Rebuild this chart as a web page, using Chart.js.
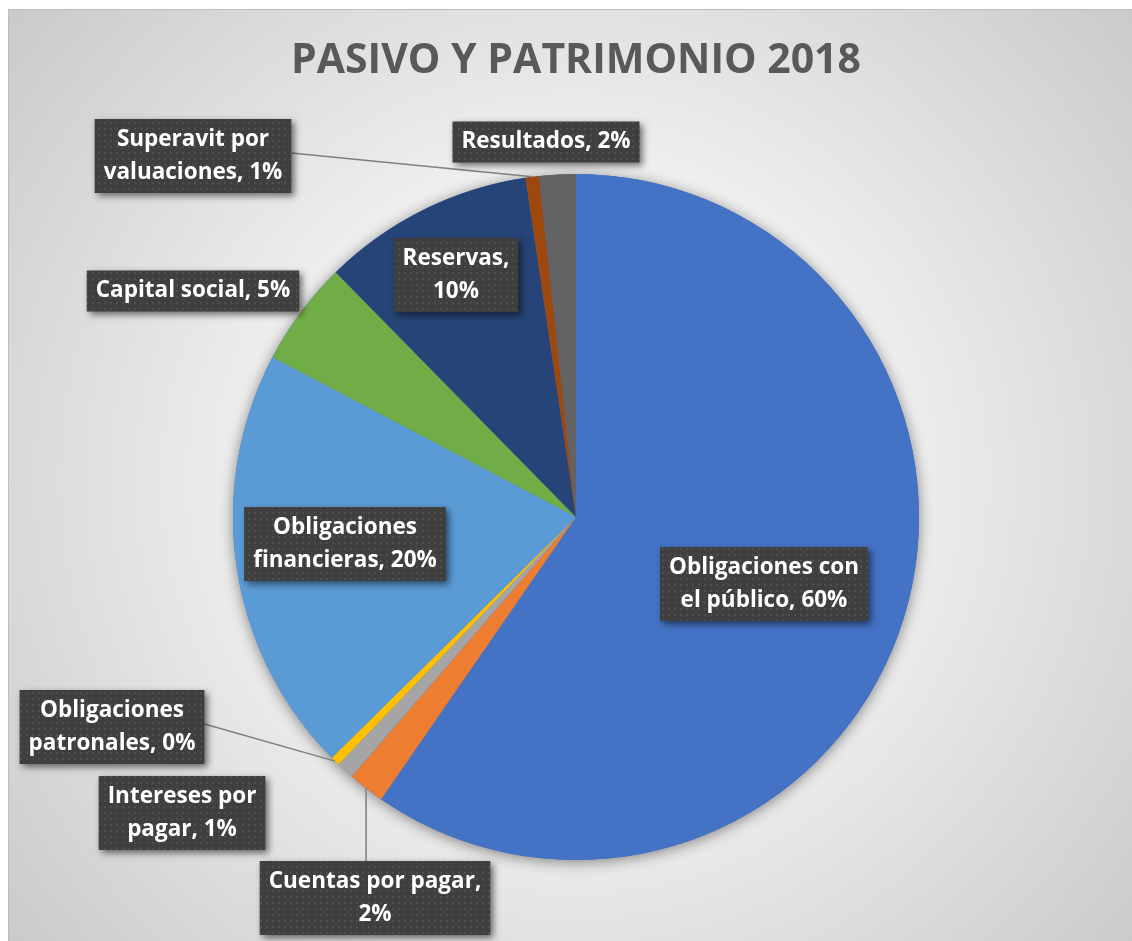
<!DOCTYPE html>
<html>
<head>
<meta charset="utf-8">
<script src="https://cdn.jsdelivr.net/npm/chart.js@4"></script>
<style>
  html, body { margin: 0; padding: 0; background: #ffffff; }
  canvas { display: block; }
</style>
</head>
<body>
<canvas id="pasivoChart" width="1132" height="941"></canvas>
<script>
const categories = [
  'Obligaciones con el público',
  'Cuentas por pagar',
  'Intereses por pagar',
  'Obligaciones patronales',
  'Obligaciones financieras',
  'Capital social',
  'Reservas',
  'Superavit por valuaciones',
  'Resultados'
];
const shares = [59.6, 1.73, 0.83, 0.43, 20.1, 4.93, 10.0, 0.63, 1.72];
const sliceColors = ['#4472C4', '#ED7D31', '#A5A5A5', '#FFC000', '#5B9BD5', '#70AD47', '#264478', '#9E480E', '#636363'];
const chartTitle = 'PASIVO Y PATRIMONIO 2018';

// label box placement (offset of box centre from pie centre), words on first line, leader style
const labelLayout = [
  { dx: 188, dy: 67, wrap: 2, leader: null },
  { dx: -201, dy: 381, wrap: 3, leader: 'top' },
  { dx: -394, dy: 296, wrap: 2, leader: null },
  { dx: -464, dy: 210, wrap: 1, leader: 'right' },
  { dx: -231, dy: 27, wrap: 1, leader: null },
  { dx: -383, dy: -226, wrap: 0, leader: null },
  { dx: -120, dy: -242, wrap: 1, leader: null },
  { dx: -383, dy: -361, wrap: 2, leader: 'right' },
  { dx: -30, dy: -375, wrap: 0, leader: null }
];

const LABEL_FONT = 'bold 22.5px "Open Sans"';
const LINE_H = 33;

function dotPattern(ctx) {
  const c = document.createElement('canvas');
  c.width = 6; c.height = 6;
  const p = c.getContext('2d');
  p.fillStyle = '#3f3f3f';
  p.fillRect(0, 0, 6, 6);
  p.fillStyle = '#4e4e4e';
  p.fillRect(2, 2, 2, 2);
  return ctx.createPattern(c, 'repeat');
}

const backdrop = {
  id: 'backdrop',
  beforeDraw(chart) {
    const ctx = chart.ctx;
    const w = chart.width, h = chart.height;
    ctx.save();
    ctx.fillStyle = '#ffffff';
    ctx.fillRect(0, 0, w, h);
    const g = ctx.createRadialGradient(575, 480, 0, 575, 480, 800);
    g.addColorStop(0, '#fdfdfd');
    g.addColorStop(0.35, '#f2f2f2');
    g.addColorStop(1, '#c4c4c4');
    ctx.fillStyle = g;
    ctx.fillRect(8, 9, w - 8, h - 9);
    ctx.strokeStyle = '#bdbdbd';
    ctx.lineWidth = 1;
    ctx.beginPath();
    ctx.moveTo(8.5, h);
    ctx.lineTo(8.5, 9.5);
    ctx.lineTo(w, 9.5);
    ctx.stroke();
    // title
    ctx.fillStyle = '#595959';
    ctx.font = 'bold 41px "Open Sans"';
    ctx.textAlign = 'center';
    ctx.textBaseline = 'middle';
    ctx.fillText(chartTitle, 576, 61);
    ctx.restore();
  },
  beforeDatasetsDraw(chart) {
    const arc = chart.getDatasetMeta(0).data[0];
    const ctx = chart.ctx;
    ctx.save();
    ctx.shadowColor = 'rgba(0,0,0,0.45)';
    ctx.shadowBlur = 14;
    ctx.shadowOffsetX = 0;
    ctx.shadowOffsetY = 2;
    ctx.fillStyle = '#4472C4';
    ctx.beginPath();
    ctx.arc(arc.x, arc.y, arc.outerRadius, 0, Math.PI * 2);
    ctx.fill();
    ctx.restore();
  }
};

const dataLabels = {
  id: 'dataLabels',
  afterDatasetsDraw(chart) {
    const ctx = chart.ctx;
    const meta = chart.getDatasetMeta(0);
    const total = shares.reduce((a, b) => a + b, 0);
    const pattern = dotPattern(ctx);
    ctx.save();
    ctx.font = LABEL_FONT;
    meta.data.forEach((arc, i) => {
      const lay = labelLayout[i];
      const pct = Math.round(shares[i] / total * 100);
      const words = (categories[i] + ', ' + pct + '%').split(' ');
      const lines = lay.wrap > 0
        ? [words.slice(0, lay.wrap).join(' '), words.slice(lay.wrap).join(' ')]
        : [words.join(' ')];
      const textW = Math.max(...lines.map(l => ctx.measureText(l).width));
      const bw = textW + 18;
      const bh = lines.length * LINE_H + 8;
      const cx = arc.x + lay.dx, cy = arc.y + lay.dy;
      const left = cx - bw / 2, top = cy - bh / 2;

      const mid = (arc.startAngle + arc.endAngle) / 2;
      const px = arc.x + arc.outerRadius * Math.cos(mid);
      const py = arc.y + arc.outerRadius * Math.sin(mid);
      if (lay.leader) {
        ctx.strokeStyle = '#7f7f7f';
        ctx.lineWidth = 1.5;
        ctx.beginPath();
        if (lay.leader === 'top') {
          ctx.moveTo(px, top);
        } else {
          ctx.moveTo(left + bw, cy - 3);
        }
        ctx.lineTo(px, py);
        ctx.stroke();
      }

      ctx.save();
      ctx.shadowColor = 'rgba(0,0,0,0.55)';
      ctx.shadowBlur = 7;
      ctx.shadowOffsetX = 3;
      ctx.shadowOffsetY = 3;
      ctx.fillStyle = pattern;
      ctx.fillRect(left, top, bw, bh);
      ctx.restore();

      ctx.fillStyle = '#ffffff';
      ctx.textAlign = 'center';
      ctx.textBaseline = 'middle';
      lines.forEach((l, k) => {
        ctx.fillText(l, cx, top + 4 + LINE_H / 2 + k * LINE_H);
      });
    });
    ctx.restore();
  }
};

new Chart(document.getElementById('pasivoChart'), {
  type: 'pie',
  data: {
    labels: categories,
    datasets: [{
      data: shares,
      backgroundColor: sliceColors,
      borderWidth: 0
    }]
  },
  options: {
    responsive: false,
    animation: false,
    layout: { padding: { left: 233, right: 213, top: 174, bottom: 81 } },
    plugins: {
      legend: { display: false },
      tooltip: { enabled: false },
      title: { display: false }
    }
  },
  plugins: [backdrop, dataLabels]
});
</script>
</body>
</html>
